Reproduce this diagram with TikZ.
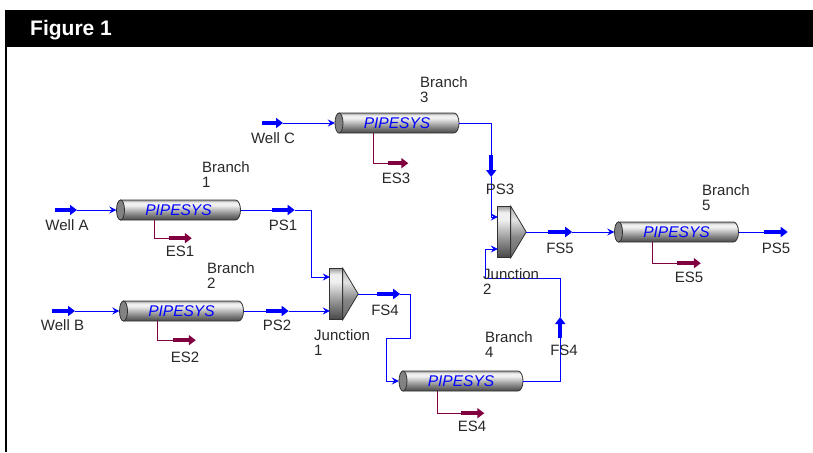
\documentclass[tikz,border=0pt]{standalone}
\usepackage{fontspec}
\setmainfont{Liberation Sans}
\usetikzlibrary{arrows.meta}
\definecolor{flowblue}{RGB}{0,0,255}
\definecolor{emaroon}{RGB}{128,0,64}
\definecolor{lbltext}{RGB}{40,40,40}
\definecolor{edge}{RGB}{50,50,50}
\definecolor{capgray}{RGB}{130,130,130}
\definecolor{cdark}{RGB}{70,70,70}
\definecolor{cmid}{RGB}{135,135,135}
\definecolor{clight}{RGB}{240,240,240}
\definecolor{ctop}{RGB}{155,155,155}
\definecolor{tdark}{RGB}{105,105,105}
\definecolor{tlight}{RGB}{228,228,228}
\definecolor{ttop}{RGB}{175,175,175}
\pgfdeclareverticalshading{cyl}{100bp}{color(0bp)=(cdark); color(25bp)=(cdark); color(40bp)=(cmid); color(62bp)=(clight); color(69bp)=(clight); color(75bp)=(ctop); color(100bp)=(ctop)}
\pgfdeclareverticalshading{cyltri}{100bp}{color(0bp)=(tdark); color(25bp)=(tdark); color(45bp)=(cmid); color(62bp)=(tlight); color(75bp)=(ttop); color(100bp)=(ttop)}
\tikzset{
  flow/.style={draw=flowblue, line width=1pt},
  inlet/.style={-{Stealth[length=7pt,width=7pt,inset=2.5pt]}},
  stream/.style={draw=flowblue, line width=3.5pt, -{Triangle[length=7pt,width=10pt]}},
  eflow/.style={draw=emaroon, line width=0.9pt},
  estream/.style={draw=emaroon, line width=3.5pt, -{Triangle[length=7pt,width=10pt]}},
  lbl/.style={font=\fontsize{15}{15}\selectfont, text=lbltext, inner sep=0pt},
  multilbl/.style={lbl, align=left, anchor=west},
  pipebox/.style={minimum width=124pt, minimum height=20pt, inner sep=0pt, font=\fontsize{15.5}{15.5}\selectfont\itshape, text=flowblue},
  juncbox/.style={minimum width=28pt, minimum height=51pt, inner sep=0pt},
  shell/.style={shading=cyl, draw=edge, line width=0.8pt},
}
\newcommand\pipeunit[3]{%
  \shade[shell] (#2-58,#3-10) -- (#2+57,#3-10) arc[start angle=90,end angle=-90,x radius=5pt,y radius=10pt] -- (#2-58,#3+10) -- cycle;
  \filldraw[fill=capgray, draw=edge, line width=0.8pt] (#2-58,#3) ellipse[x radius=4pt, y radius=10pt];
  \node[pipebox] (#1) at (#2,#3) {PIPESYS};
}
\newcommand\juncunit[3]{%
  \node[juncbox] (#1) at (#2,#3) {};
  \shade[shell] (#1.north west) rectangle ([xshift=13pt]#1.south west);
  \shade[shell,shading=cyltri] ([xshift=13pt]#1.north west) -- (#1.east) -- ([xshift=13pt]#1.south west) -- cycle;
}
\begin{document}
\begin{tikzpicture}[x=1pt,y=-1pt]
\useasboundingbox (0,0) rectangle (813,452);
\fill[white] (0,0) rectangle (813,452);
\fill[black] (5,10) rectangle (813,47);
\fill[black] (5,47) rectangle (7,452);
\node[font=\fontsize{21}{21}\selectfont\bfseries, text=white, anchor=base west, inner sep=0pt] (title) at (30,36) {Figure 1};

\pipeunit{p1}{178.5}{210}
\pipeunit{p2}{181.5}{311}
\pipeunit{p3}{397}{123}
\pipeunit{p4}{461}{381}
\pipeunit{p5}{676.5}{232}
\juncunit{j1}{344}{294}
\juncunit{j2}{512}{232}

% feeds
\coordinate (wA) at (55,210);
\draw[stream] (wA) -- ++(22,0) coordinate (wAe);
\draw[flow,inlet] (wAe) -- (p1.west);
\coordinate (wB) at (52,311);
\draw[stream] (wB) -- ++(23,0) coordinate (wBe);
\draw[flow,inlet] (wBe) -- (p2.west);
\coordinate (wC) at (262,123);
\draw[stream] (wC) -- ++(21,0) coordinate (wCe);
\draw[flow,inlet] (wCe) -- (p3.west);

% PS1
\draw[flow] (p1.east) -- ++(31,0) coordinate (ps1s);
\draw[stream] (ps1s) -- ++(23,0) coordinate (ps1e);
\draw[flow,inlet] (ps1e) -- ++(17,0) |- ([yshift=17pt]j1.west);
% PS2
\draw[flow] (p2.east) -- ++(22,0) coordinate (ps2s);
\draw[stream] (ps2s) -- ++(23,0) coordinate (ps2e);
\draw[flow,inlet] (ps2e) -- (ps2e -| j1.west);
% FS4
\draw[flow] (j1.east) -- ++(19,0) coordinate (fs4s);
\draw[stream] (fs4s) -- ++(23,0) coordinate (fs4e);
\draw[flow,inlet] (fs4e) -- ++(10,0) -- ++(0,44) -- ++(-24,0) |- (p4.west);
% Pipe 4 out
\draw[flow] (p4.east) -- ++(37,0) -- ++(0,-43) coordinate (fs4bs);
\draw[stream] (fs4bs) -- ++(0,-21) coordinate (fs4be);
\draw[flow,inlet] (fs4be) -- ++(0,-39) -- ++(-75,0) |- ([yshift=-17pt]j2.west);
% PS3
\draw[flow] (p3.east) -- ++(32,0) -- ++(0,32) coordinate (ps3s);
\draw[stream] (ps3s) -- ++(0,22) coordinate (ps3e);
\draw[flow,inlet] (ps3e) |- ([yshift=15pt]j2.west);
% FS5
\draw[flow] (j2.east) -- ++(22,0) coordinate (fs5s);
\draw[stream] (fs5s) -- ++(24,0) coordinate (fs5e);
\draw[flow,inlet] (fs5e) -- (p5.west);
% PS5
\draw[flow] (p5.east) -- ++(25,0) coordinate (ps5s);
\draw[stream] (ps5s) -- ++(24,0) coordinate (ps5e);

% energy streams
\draw[eflow] ([xshift=38.5pt]p1.south west) -- ++(0,18) -- ++(14,0) coordinate (es1s);
\draw[estream] (es1s) -- ++(23,0) coordinate (es1e);
\draw[eflow] ([xshift=38.5pt]p2.south west) -- ++(0,19) -- ++(15,0) coordinate (es2s);
\draw[estream] (es2s) -- ++(23,0) coordinate (es2e);
\draw[eflow] ([xshift=38.5pt]p3.south west) -- ++(0,30) -- ++(15,0) coordinate (es3s);
\draw[estream] (es3s) -- ++(20,0) coordinate (es3e);
\draw[eflow] ([xshift=38.5pt]p4.south west) -- ++(0,22) -- ++(24,0) coordinate (es4s);
\draw[estream] (es4s) -- ++(23,0) coordinate (es4e);
\draw[eflow] ([xshift=38.5pt]p5.south west) -- ++(0,21) -- ++(24,0) coordinate (es5s);
\draw[estream] (es5s) -- ++(24,0) coordinate (es5e);

% labels
\node[lbl] (lwA) at (67,225) {Well A};
\node[lbl] (lwB) at (62.5,325) {Well B};
\node[lbl] (lwC) at (273,138) {Well C};
\node[lbl] (lps1) at (283,225) {PS1};
\node[lbl] (lps2) at (277,325) {PS2};
\node[lbl] (lps3) at (500,189) {PS3};
\node[lbl] (lfs4) at (385,310) {FS4};
\node[lbl] (lfs4b) at (564,350) {FS4};
\node[lbl] (lfs5) at (560,248) {FS5};
\node[lbl] (lps5) at (776,248) {PS5};
\node[lbl] (les1) at (180,251) {ES1};
\node[lbl] (les2) at (185,357) {ES2};
\node[lbl] (les3) at (396,178) {ES3};
\node[lbl] (les4) at (472,426) {ES4};
\node[lbl] (les5) at (689,277) {ES5};
\node[multilbl] (lb1) at (202,174.5) {Branch\\1};
\node[multilbl] (lb2) at (207,275.5) {Branch\\2};
\node[multilbl] (lb3) at (420,90) {Branch\\3};
\node[multilbl] (lb4) at (485,344.5) {Branch\\4};
\node[multilbl] (lb5) at (702,197.5) {Branch\\5};
\node[multilbl] (lj1) at (314,343) {Junction\\1};
\node[multilbl] (lj2) at (483,281.5) {Junction\\2};
\end{tikzpicture}
\end{document}
